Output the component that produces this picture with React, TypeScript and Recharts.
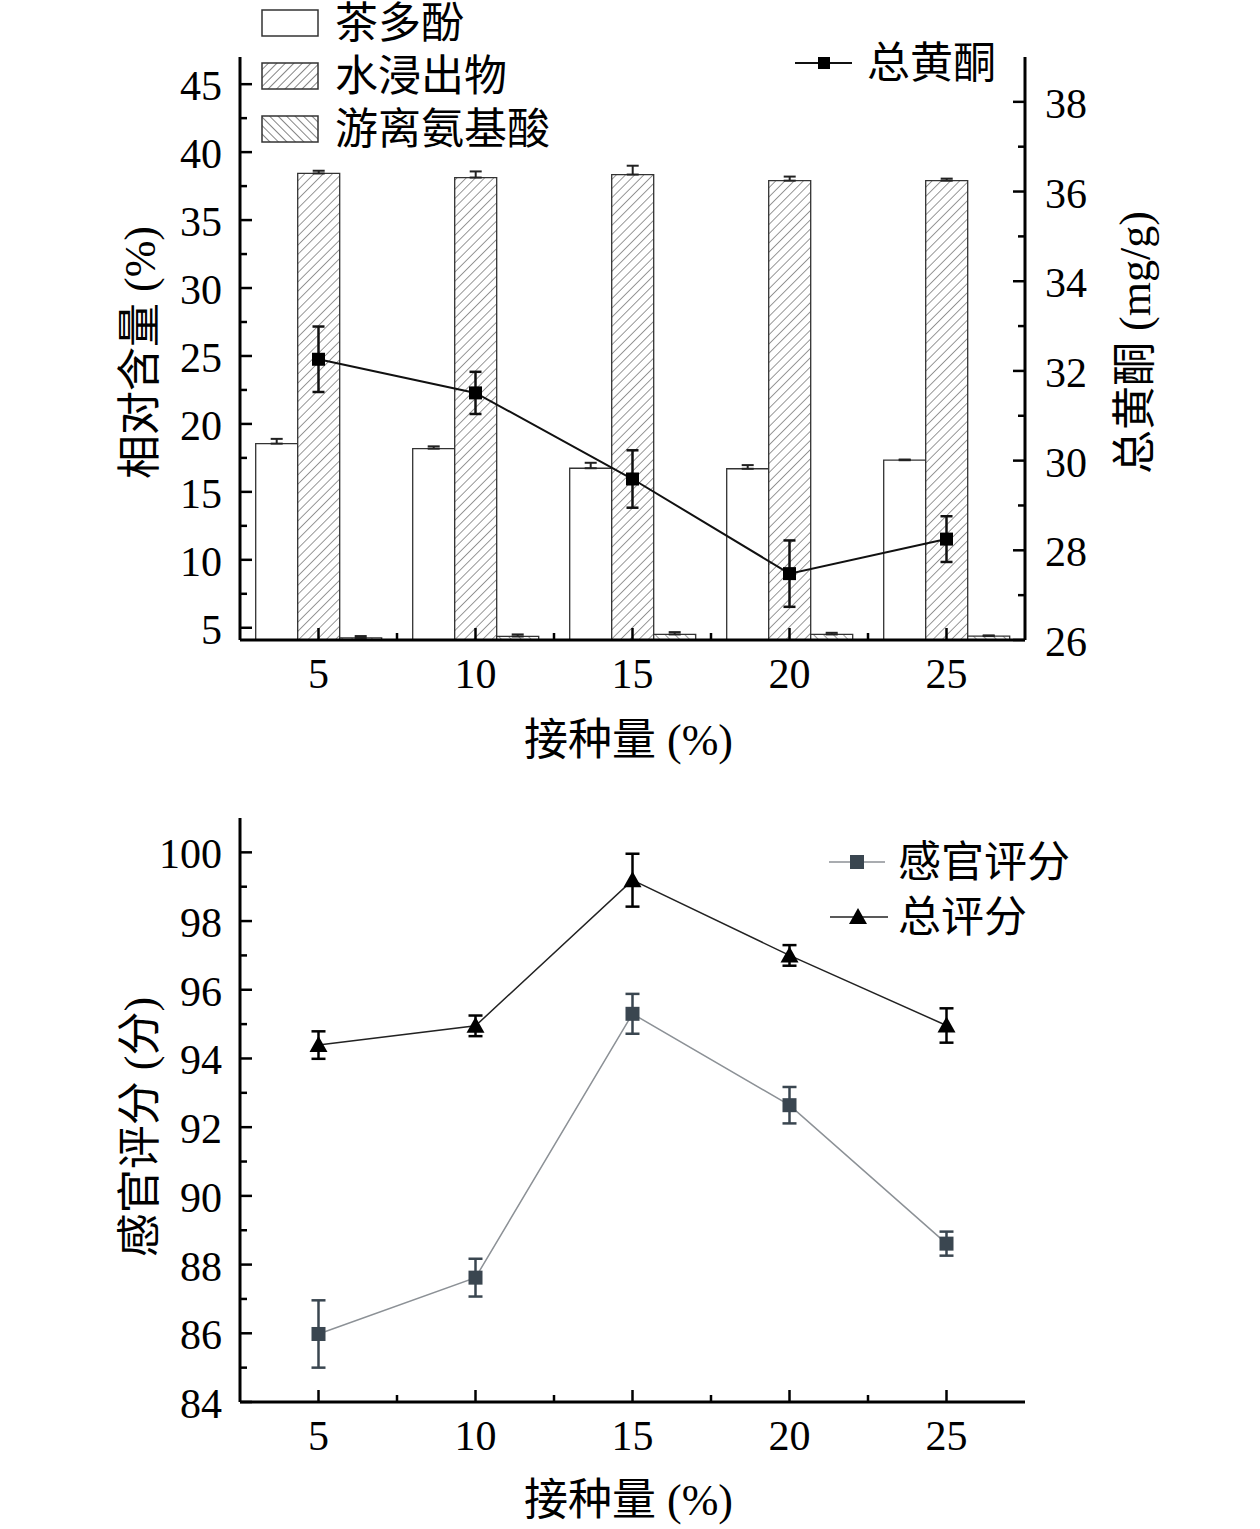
import React from "react";
import { ComposedChart, XAxis, YAxis, Bar, Line, ErrorBar, Legend } from "recharts";

const FONT = "'Liberation Serif', 'Noto Sans CJK SC', serif";

// 接种量 (%)
const doses = [5, 10, 15, 20, 25];

// top panel, left axis (%)
const teaPolyphenols = [18.55, 18.18, 16.74, 16.7, 17.33];
const teaPolyphenolsErr = [0.35, 0.17, 0.4, 0.27, 0.05];
const waterExtract = [38.43, 38.13, 38.35, 37.9, 37.9];
const waterExtractErr = [0.2, 0.45, 0.65, 0.3, 0.15];
const aminoAcids = [4.26, 4.36, 4.51, 4.51, 4.39];
const aminoAcidsErr = [0.13, 0.15, 0.17, 0.12, 0.05];
// top panel, right axis (mg/g)
const flavonoids = [32.26, 31.51, 29.59, 27.48, 28.25];
const flavonoidsErr = [0.73, 0.47, 0.64, 0.74, 0.51];

// bottom panel (分)
const sensoryScore = [85.98, 87.62, 95.3, 92.64, 88.61];
const sensoryScoreErr = [0.98, 0.55, 0.58, 0.53, 0.35];
const totalScore = [94.39, 94.95, 99.19, 97.0, 94.96];
const totalScoreErr = [0.4, 0.3, 0.77, 0.3, 0.5];

// ticks (minor ones included, labels only on majors)
const doseTicks = [5, 7.5, 10, 12.5, 15, 17.5, 20, 22.5, 25];
const contentTicks = [5, 7.5, 10, 12.5, 15, 17.5, 20, 22.5, 25, 27.5, 30, 32.5, 35, 37.5, 40, 42.5, 45];
const flavonoidTicks = [26, 27, 28, 29, 30, 31, 32, 33, 34, 35, 36, 37, 38];
const scoreTicks = [84, 85, 86, 87, 88, 89, 90, 91, 92, 93, 94, 95, 96, 97, 98, 99, 100];

const topData = doses.map((d, i) => ({
  dose: d,
  tp: teaPolyphenols[i],
  tpErr: [0, teaPolyphenolsErr[i]],
  we: waterExtract[i],
  weErr: [0, waterExtractErr[i]],
  aa: aminoAcids[i],
  aaErr: [0, aminoAcidsErr[i]],
  fl: flavonoids[i],
  flErr: flavonoidsErr[i],
}));

const bottomData = doses.map((d, i) => ({
  dose: d,
  sensory: sensoryScore[i],
  sensoryErr: sensoryScoreErr[i],
  total: totalScore[i],
  totalErr: totalScoreErr[i],
}));

const axisLine = { stroke: "#000", strokeWidth: 3 };

// inward ticks like Origin
function makeTick(side: "left" | "right" | "bottom", isMajor: (v: number) => boolean) {
  return (props: any) => {
    const { x, y, payload } = props;
    const v = payload.value;
    const major = isMajor(v);
    const len = major ? 12 : 7;
    if (side === "bottom") {
      return (
        <g>
          <line x1={x} x2={x} y1={y} y2={y - len} stroke="#000" strokeWidth={2.5} />
          {major && (
            <text x={x} y={y + 48} textAnchor="middle" fontSize={42} fontFamily={FONT} fill="#000">
              {v}
            </text>
          )}
        </g>
      );
    }
    const dir = side === "left" ? 1 : -1;
    return (
      <g>
        <line x1={x} x2={x + dir * len} y1={y} y2={y} stroke="#000" strokeWidth={2.5} />
        {major && (
          <text
            x={side === "left" ? x - 18 : x + 20}
            y={y + 16}
            textAnchor={side === "left" ? "end" : "start"}
            fontSize={42}
            fontFamily={FONT}
            fill="#000"
          >
            {v}
          </text>
        )}
      </g>
    );
  };
}

const vTitle = (text: string, dx: number, dy: number) => (props: any) => {
  const vb = props.viewBox;
  const cx = vb.x + dx;
  const cy = vb.y + vb.height / 2 + dy;
  return (
    <text
      x={cx}
      y={cy}
      transform={`rotate(-90 ${cx} ${cy})`}
      textAnchor="middle"
      dominantBaseline="central"
      fontSize={44}
      fontFamily={FONT}
      fill="#000"
    >
      {text}
    </text>
  );
};

const hTitle = (text: string, dy: number) => (props: any) => {
  const vb = props.viewBox;
  return (
    <text
      x={vb.x + vb.width / 2 - 4}
      y={vb.y + dy}
      textAnchor="middle"
      dominantBaseline="central"
      fontSize={44}
      fontFamily={FONT}
      fill="#000"
    >
      {text}
    </text>
  );
};

const squareDot = (size: number, fill: string) => (props: any) => {
  const { cx, cy, index } = props;
  return <rect key={`sq-${index}`} x={cx - size / 2} y={cy - size / 2} width={size} height={size} fill={fill} />;
};

const triangleDot = (props: any) => {
  const { cx, cy, index } = props;
  return <polygon key={`tri-${index}`} points={`${cx},${cy - 9} ${cx - 9},${cy + 7} ${cx + 9},${cy + 7}`} fill="#000" />;
};

function TopLegend() {
  const txt = { fontSize: 43, fontFamily: FONT, fill: "#000", dominantBaseline: "central" } as any;
  return (
    <svg width={1260} height={175} style={{ display: "block" }}>
      <defs>
        <pattern id="legFwd" width="6" height="6" patternUnits="userSpaceOnUse" patternTransform="rotate(45)">
          <rect width="6" height="6" fill="#fff" />
          <line x1="0" y1="0" x2="0" y2="6" stroke="#333" strokeWidth="1.2" />
        </pattern>
        <pattern id="legBack" width="6" height="6" patternUnits="userSpaceOnUse" patternTransform="rotate(-45)">
          <rect width="6" height="6" fill="#fff" />
          <line x1="0" y1="0" x2="0" y2="6" stroke="#333" strokeWidth="1.2" />
        </pattern>
      </defs>
      <rect x={262} y={10} width={56} height={26} fill="#fff" stroke="#333" strokeWidth={1.5} />
      <text x={335} y={23} {...txt}>茶多酚</text>
      <rect x={262} y={63} width={56} height={26} fill="url(#legFwd)" stroke="#333" strokeWidth={1.5} />
      <text x={335} y={76} {...txt}>水浸出物</text>
      <rect x={262} y={116} width={56} height={26} fill="url(#legBack)" stroke="#333" strokeWidth={1.5} />
      <text x={335} y={129} {...txt}>游离氨基酸</text>
      <line x1={795} x2={852} y1={63} y2={63} stroke="#111" strokeWidth={2} />
      <rect x={818} y={57} width={12} height={12} fill="#000" />
      <text x={867} y={63} {...txt}>总黄酮</text>
    </svg>
  );
}

function BottomLegend() {
  const txt = { fontSize: 43, fontFamily: FONT, fill: "#000", dominantBaseline: "central" } as any;
  return (
    <svg width={1260} height={200} style={{ display: "block" }}>
      <line x1={829} x2={885} y1={92} y2={92} stroke="#8c9196" strokeWidth={1.5} />
      <rect x={850} y={85} width={14} height={14} fill="#3a4650" />
      <text x={898} y={92} {...txt}>感官评分</text>
      <line x1={830} x2={888} y1={147} y2={147} stroke="#222" strokeWidth={1.5} />
      <polygon points="858,138 849,154 867,154" fill="#000" />
      <text x={898} y={147} {...txt}>总评分</text>
    </svg>
  );
}

export default function App() {
  return (
    <div style={{ position: "absolute", left: 0, top: 0, width: 1260, height: 1529, background: "#fff" }}>
      <ComposedChart
        width={1260}
        height={770}
        data={topData}
        margin={{ top: 57, right: 135, bottom: 70, left: 140 }}
        barCategoryGap="10%"
        barGap={0}
      >
        <defs>
          <pattern id="hatchFwd" width="6.5" height="6.5" patternUnits="userSpaceOnUse" patternTransform="rotate(45)">
            <rect width="6.5" height="6.5" fill="#fff" />
            <line x1="0" y1="0" x2="0" y2="6.5" stroke="#444" strokeWidth="1.1" />
          </pattern>
          <pattern id="hatchBack" width="7" height="7" patternUnits="userSpaceOnUse" patternTransform="rotate(-45)">
            <rect width="7" height="7" fill="#fff" />
            <line x1="0" y1="0" x2="0" y2="7" stroke="#444" strokeWidth="1.1" />
          </pattern>
        </defs>
        <XAxis xAxisId="cat" dataKey="dose" hide height={0} />
        <XAxis
          xAxisId="num"
          dataKey="dose"
          type="number"
          domain={[2.5, 27.5]}
          allowDataOverflow
          ticks={doseTicks}
          interval={0}
          height={60}
          axisLine={axisLine}
          tickLine={false}
          tickSize={0}
          tickMargin={0}
          tick={makeTick("bottom", (v) => v % 5 === 0)}
          label={hTitle("接种量 (%)", 100)}
        />
        <YAxis
          yAxisId="left"
          orientation="left"
          width={100}
          domain={[4.1, 47]}
          allowDataOverflow
          ticks={contentTicks}
          interval={0}
          axisLine={axisLine}
          tickLine={false}
          tickSize={0}
          tickMargin={0}
          tick={makeTick("left", (v) => v % 5 === 0)}
          label={vTitle("相对含量 (%)", 0, 4)}
        />
        <YAxis
          yAxisId="right"
          orientation="right"
          width={100}
          domain={[26, 39]}
          allowDataOverflow
          ticks={flavonoidTicks}
          interval={0}
          axisLine={axisLine}
          tickLine={false}
          tickSize={0}
          tickMargin={0}
          tick={makeTick("right", (v) => v % 2 === 0)}
          label={vTitle("总黄酮 (mg/g)", 110, -6)}
        />
        <Bar xAxisId="cat" yAxisId="left" dataKey="tp" name="茶多酚" fill="#fff" stroke="#333" strokeWidth={1.3} isAnimationActive={false}>
          <ErrorBar dataKey="tpErr" width={6} stroke="#222" strokeWidth={2} direction="y" />
        </Bar>
        <Bar xAxisId="cat" yAxisId="left" dataKey="we" name="水浸出物" fill="url(#hatchFwd)" stroke="#333" strokeWidth={1.3} isAnimationActive={false}>
          <ErrorBar dataKey="weErr" width={6} stroke="#222" strokeWidth={2} direction="y" />
        </Bar>
        <Bar xAxisId="cat" yAxisId="left" dataKey="aa" name="游离氨基酸" fill="url(#hatchBack)" stroke="#333" strokeWidth={1.3} isAnimationActive={false}>
          <ErrorBar dataKey="aaErr" width={6} stroke="#222" strokeWidth={2} direction="y" />
        </Bar>
        <Line
          xAxisId="num"
          yAxisId="right"
          dataKey="fl"
          name="总黄酮"
          stroke="#111"
          strokeWidth={2}
          dot={squareDot(13, "#000")}
          activeDot={false}
          isAnimationActive={false}
        >
          <ErrorBar dataKey="flErr" width={6} stroke="#111" strokeWidth={2.5} direction="y" />
        </Line>
        <Legend
          layout="horizontal"
          verticalAlign="middle"
          align="center"
          wrapperStyle={{ left: 0, top: 0, width: 1260, height: 175 }}
          content={() => <TopLegend />}
        />
      </ComposedChart>

      <ComposedChart width={1260} height={759} data={bottomData} margin={{ top: 48, right: 235, bottom: 67, left: 140 }}>
        <XAxis
          dataKey="dose"
          type="number"
          domain={[2.5, 27.5]}
          allowDataOverflow
          ticks={doseTicks}
          interval={0}
          height={60}
          axisLine={axisLine}
          tickLine={false}
          tickSize={0}
          tickMargin={0}
          tick={makeTick("bottom", (v) => v % 5 === 0)}
          label={hTitle("接种量 (%)", 98)}
        />
        <YAxis
          width={100}
          domain={[84, 101]}
          allowDataOverflow
          ticks={scoreTicks}
          interval={0}
          axisLine={axisLine}
          tickLine={false}
          tickSize={0}
          tickMargin={0}
          tick={makeTick("left", (v) => v % 2 === 0)}
          label={vTitle("感官评分 (分)", 0, 17)}
        />
        <Line
          dataKey="sensory"
          name="感官评分"
          stroke="#8c9196"
          strokeWidth={1.5}
          dot={squareDot(14, "#3a4650")}
          activeDot={false}
          isAnimationActive={false}
        >
          <ErrorBar dataKey="sensoryErr" width={7} stroke="#3a4650" strokeWidth={2.5} direction="y" />
        </Line>
        <Line
          dataKey="total"
          name="总评分"
          stroke="#222"
          strokeWidth={1.5}
          dot={triangleDot}
          activeDot={false}
          isAnimationActive={false}
        >
          <ErrorBar dataKey="totalErr" width={7} stroke="#000" strokeWidth={2.5} direction="y" />
        </Line>
        <Legend
          layout="horizontal"
          verticalAlign="middle"
          align="center"
          wrapperStyle={{ left: 0, top: 0, width: 1260, height: 200 }}
          content={() => <BottomLegend />}
        />
      </ComposedChart>
    </div>
  );
}
